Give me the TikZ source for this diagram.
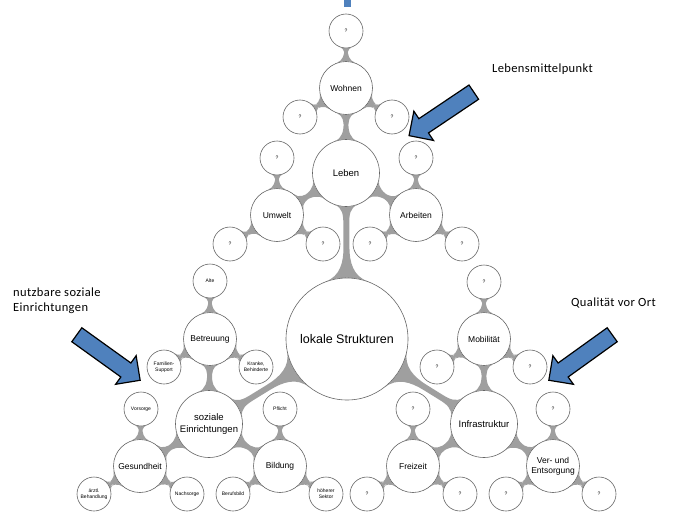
\documentclass[tikz,border=0pt]{standalone}
\usepackage{fontspec}
\setmainfont{Liberation Sans}
\newfontfamily\notefont[LetterSpace=3]{Carlito}
\usepackage{tikz}
\usetikzlibrary{mindmap,shapes.arrows,backgrounds}
\definecolor{arrowblue}{HTML}{4F81BD}
\tikzset{bubble/.style = {draw=black!60, circle, fill=white, inner sep=0pt, align=center, line width=0.6pt}}
\tikzset{leaf/.style = {bubble, minimum size=34pt, font=\fontsize{5}{6}\selectfont}}
\tikzset{branch/.style = {bubble, minimum size=53pt, font=\fontsize{8.5}{10}\selectfont}}
\tikzset{hub/.style = {bubble, minimum size=67pt, font=\fontsize{9.5}{11.5}\selectfont}}
\tikzset{core/.style = {bubble, minimum size=122pt, font=\fontsize{12.5}{14}\selectfont}}
\tikzset{neck/.style = {circle connection bar, fill=gray!75, line width=5.5pt}}
\tikzset{pointer/.style = {single arrow, draw=black, fill=arrowblue, line width=1.2pt, minimum height=78pt, inner sep=8pt, single arrow head extend=9pt, single arrow head indent=0pt}}
\tikzset{note/.style = {font=\notefont\fontsize{12.5}{15}\selectfont, align=left, inner sep=0pt}}

\begin{document}
\begin{tikzpicture}[x=1pt, y=-1pt]
  \useasboundingbox (0,0) rectangle (685,519);

  % centre
  \node [core] (lokal) at (347,339) {lokale Strukturen};

  % top branch
  \node [hub] (leben) at (346,173) {Leben};
  \node [branch] (wohnen) at (346,88) {Wohnen};
  \node [branch] (umwelt) at (277,215) {Umwelt};
  \node [branch] (arbeiten) at (416,215) {Arbeiten};
  \node [leaf] (wohnenA) at (346,31) {?};
  \node [leaf] (wohnenB) at (300,117) {?};
  \node [leaf] (wohnenC) at (392,117) {?};
  \node [leaf] (umweltA) at (277,158) {?};
  \node [leaf] (umweltB) at (230,244) {?};
  \node [leaf] (umweltC) at (323,244) {?};
  \node [leaf] (arbeitenA) at (416,158) {?};
  \node [leaf] (arbeitenB) at (370,244) {?};
  \node [leaf] (arbeitenC) at (462,244) {?};

  % left branch
  \node [hub] (sozial) at (209,424) {soziale\\Einrichtungen};
  \node [branch] (betreuung) at (210,339) {Betreuung};
  \node [branch] (gesundheit) at (140,466) {Gesundheit};
  \node [branch] (bildung) at (280,466) {Bildung};
  \node [leaf] (alte) at (210,281) {Alte};
  \node [leaf] (familie) at (164,367) {Familien-\\Support};
  \node [leaf] (kranke) at (256,367) {Kranke,\\Behinderte};
  \node [leaf] (vorsorge) at (141,409) {Vorsorge};
  \node [leaf] (arzt) at (94,494) {ärztl.\\Behandlung};
  \node [leaf] (nachsorge) at (187,494) {Nachsorge};
  \node [leaf] (pflicht) at (280,409) {Pflicht};
  \node [leaf] (beruf) at (233,494) {Berufsbild};
  \node [leaf] (sektor) at (326,494) {höherer\\Sektor};

  % right branch
  \node [hub] (infra) at (484,424) {Infrastruktur};
  \node [branch] (mobil) at (484,339) {Mobilität};
  \node [branch] (freizeit) at (413,466) {Freizeit};
  \node [branch] (entsorg) at (553,466) {Ver- und\\Entsorgung};
  \node [leaf] (mobilA) at (484,282) {?};
  \node [leaf] (mobilB) at (437,367) {?};
  \node [leaf] (mobilC) at (530,367) {?};
  \node [leaf] (freizeitA) at (413,409) {?};
  \node [leaf] (freizeitB) at (367,494) {?};
  \node [leaf] (freizeitC) at (460,494) {?};
  \node [leaf] (entsorgA) at (553,409) {?};
  \node [leaf] (entsorgB) at (506,494) {?};
  \node [leaf] (entsorgC) at (599,494) {?};

  \begin{scope}[on background layer]
    \foreach \a/\b in {lokal/leben, lokal/sozial, lokal/infra,
        leben/wohnen, leben/umwelt, leben/arbeiten,
        wohnen/wohnenA, wohnen/wohnenB, wohnen/wohnenC,
        umwelt/umweltA, umwelt/umweltB, umwelt/umweltC,
        arbeiten/arbeitenA, arbeiten/arbeitenB, arbeiten/arbeitenC,
        sozial/betreuung, sozial/gesundheit, sozial/bildung,
        betreuung/alte, betreuung/familie, betreuung/kranke,
        gesundheit/vorsorge, gesundheit/arzt, gesundheit/nachsorge,
        bildung/pflicht, bildung/beruf, bildung/sektor,
        infra/mobil, infra/freizeit, infra/entsorg,
        mobil/mobilA, mobil/mobilB, mobil/mobilC,
        freizeit/freizeitA, freizeit/freizeitB, freizeit/freizeitC,
        entsorg/entsorgA, entsorg/entsorgB, entsorg/entsorgC}
      \path [neck] (\a) to (\b);
  \end{scope}

  % notes and arrows
  \node [note, anchor=base west] (lebenstext) at (492,73) {Lebensmittelpunkt};
  \node [note, anchor=base west] (ortstext) at (571,306) {Qualität vor Ort};
  \node [note, anchor=base west] (sozialtext) at (13,311) {nutzbare soziale\\Einrichtungen};
  \node [pointer, rotate=213.9] (pointerA) at (445,111.5) {};
  \node [pointer, rotate=-35.7] (pointerB) at (105,355) {};
  \node [pointer, rotate=215.7] (pointerC) at (584,355) {};
  \fill [arrowblue] (344,0) rectangle (351,7);
\end{tikzpicture}
\end{document}
